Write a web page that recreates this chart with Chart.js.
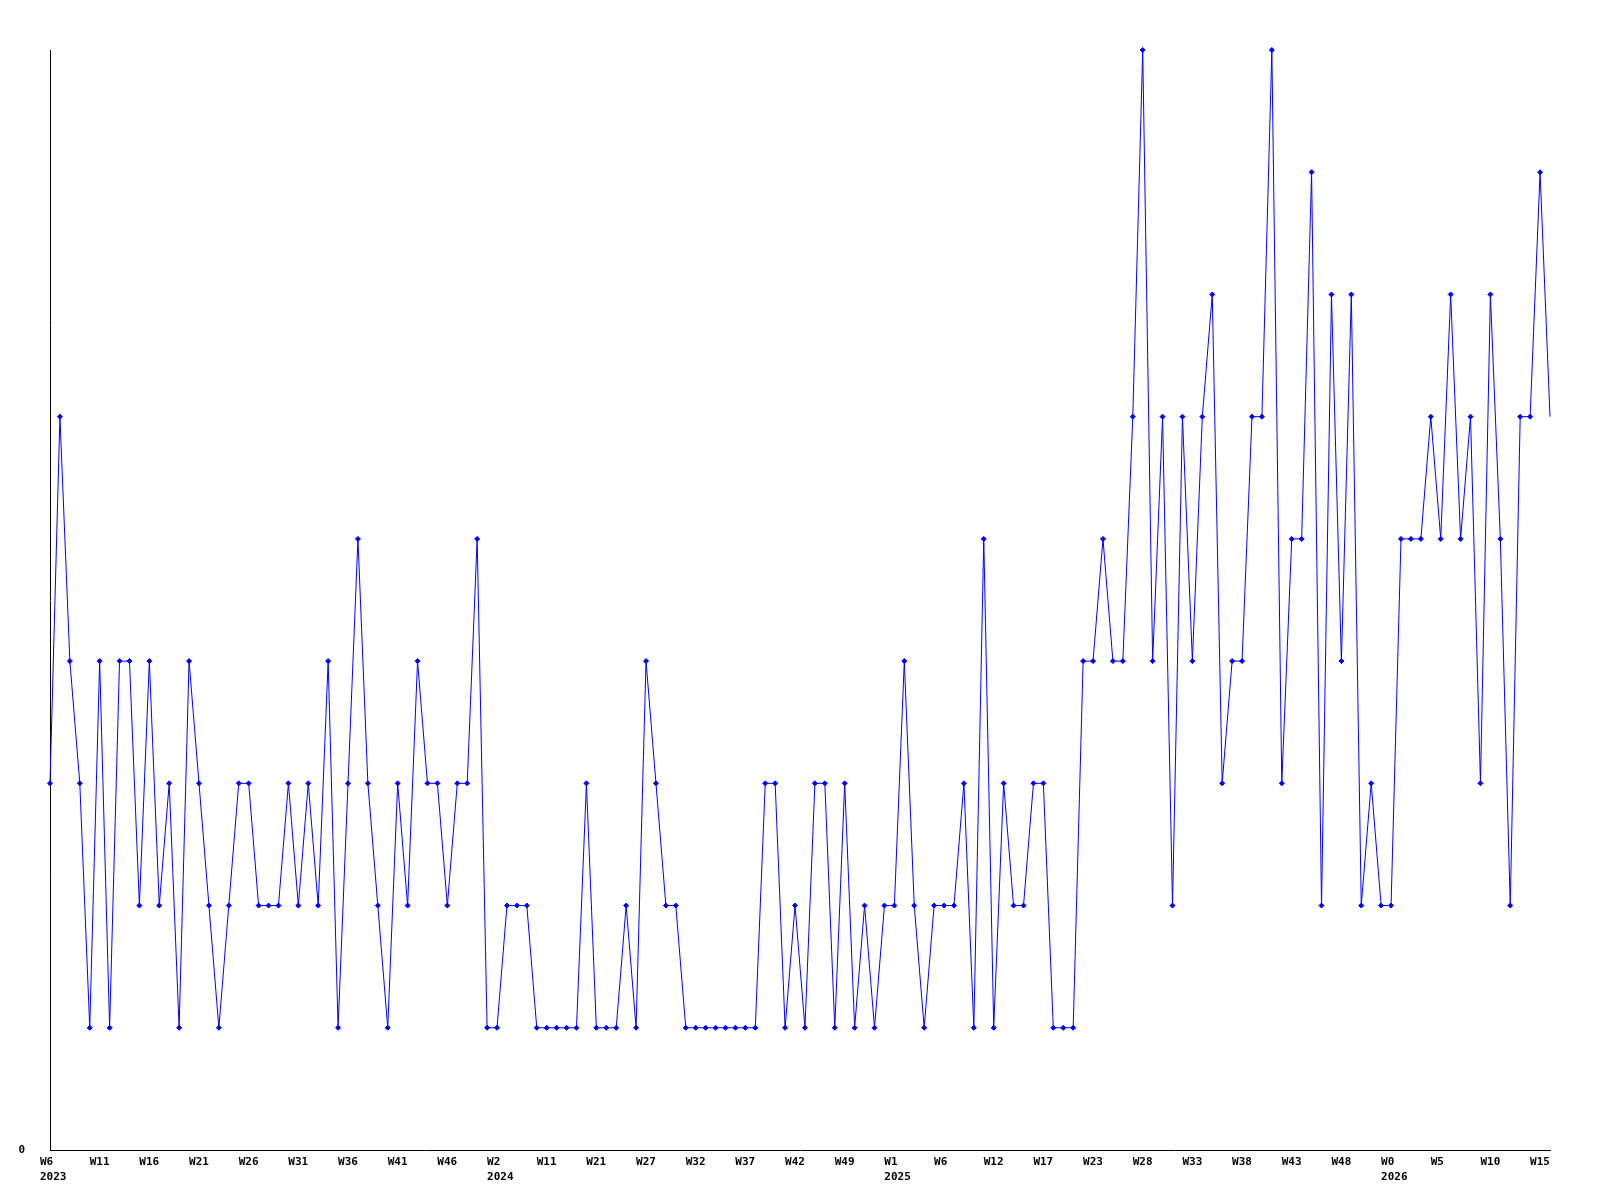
<!DOCTYPE html>
<html>
<head>
<meta charset="utf-8">
<script src="https://cdn.jsdelivr.net/npm/chart.js@4.4.1/dist/chart.umd.min.js"></script>
<style>
  body { margin: 0; background: #fff; }
  #wrap { width: 1600px; height: 1200px; }
</style>
</head>
<body>
<div id="wrap"><canvas id="weekly_chart" width="1600" height="1200"></canvas></div>
<script>
// one value per week
const weekValues = [
  3,6,4,3,1,4,1,4,4,2,
  4,2,3,1,4,3,2,1,2,3,
  3,2,2,2,3,2,3,2,4,1,
  3,5,3,2,1,3,2,4,3,3,
  2,3,3,5,1,1,2,2,2,1,
  1,1,1,1,3,1,1,1,2,1,
  4,3,2,2,1,1,1,1,1,1,
  1,1,3,3,1,2,1,3,3,1,
  3,1,2,1,2,2,4,2,1,2,
  2,2,3,1,5,1,3,2,2,3,
  3,1,1,1,4,4,5,4,4,6,
  9,4,6,2,6,4,6,7,3,4,
  4,6,6,9,3,5,5,8,2,7,
  4,7,2,3,2,2,5,5,5,6,
  5,7,5,6,3,7,5,2,6,6,
  8,6
];

// label shown on every 5th week
const tickLabels = [
  ['W6','2023'],'W11','W16','W21','W26','W31','W36','W41','W46',
  ['W2','2024'],'W11','W21','W27','W32','W37','W42','W49',
  ['W1','2025'],'W6','W12','W17','W23','W28','W33','W38','W43','W48',
  ['W0','2026'],'W5','W10','W15'
];
const tickEvery = 5;
const yTickLabels = ['0'];

const categories = weekValues.map((v, i) => (i % tickEvery === 0 && tickLabels[i / tickEvery]) ? tickLabels[i / tickEvery] : '');

const tickFont = { family: '"DejaVu Sans Mono", monospace', size: 11, weight: 'bold', lineHeight: '15px' };
const lastIdx = weekValues.length - 1;

const config = {
  type: 'line',
  data: {
    labels: categories,
    datasets: [{
      data: weekValues,
      borderColor: '#0000ff',
      backgroundColor: '#0000ff',
      borderWidth: 1,
      tension: 0,
      pointStyle: 'rectRot',
      // last week has no marker in the original
      pointRadius: (ctx) => ctx.dataIndex === lastIdx ? 0 : 2.5,
      pointBorderWidth: 1,
      clip: false
    }]
  },
  options: {
    responsive: false,
    animation: false,
    devicePixelRatio: 1,
    layout: { padding: { top: 50, right: 50, left: 0, bottom: 0 } },
    plugins: { legend: { display: false }, tooltip: { enabled: false } },
    scales: {
      x: {
        offset: false,
        grid: { display: false, drawTicks: false },
        border: { display: true, color: '#000', width: 1 },
        afterFit: (scale) => { scale.height = 50; },
        ticks: {
          autoSkip: false,
          maxRotation: 0,
          minRotation: 0,
          align: 'start',
          labelOffset: -10,
          padding: 5,
          color: '#000',
          font: tickFont
        }
      },
      y: {
        min: 0,
        max: 9,
        grid: { display: false, drawTicks: false },
        border: { display: true, color: '#000', width: 1 },
        afterFit: (scale) => { scale.width = 50; },
        afterBuildTicks: (scale) => { scale.ticks = [{ value: 0 }]; },
        ticks: {
          padding: 25,
          color: '#000',
          font: tickFont,
          callback: (v) => v === 0 ? yTickLabels[0] : ''
        }
      }
    }
  }
};

const weeklyChart = new Chart(document.getElementById('weekly_chart'), config);
</script>
</body>
</html>
